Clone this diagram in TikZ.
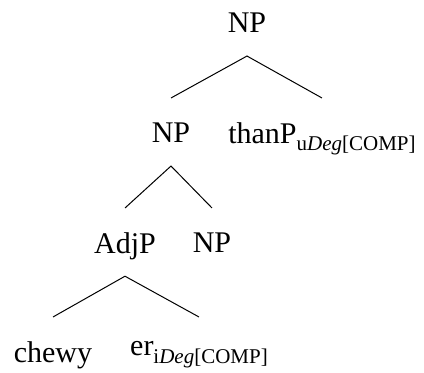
\documentclass[tikz,border=0pt]{standalone}
\usepackage{fontspec}
\setmainfont{Liberation Serif}
\usetikzlibrary{calc}
\newcommand\featsub[1]{\raisebox{-3.75pt}{\fontsize{10.5}{12}\selectfont #1}}
\begin{document}
\begin{tikzpicture}[x=0.5pt,y=-0.5pt]
        \tikzstyle{cat} = [anchor=north, inner sep=0pt, font=\fontsize{15}{18}\selectfont]
        \tikzstyle{branch} = [line width=0.5pt]
                \useasboundingbox (0,0) rectangle (424,373);

                \node (np0) [cat] at (247,12) {NP};
                \node (np1) [cat] at (171,122) {NP};
                \node (thanp) [cat] at (322,122) {thanP\featsub{u\textit{Deg}[COMP]}};
                \node (adjp) [cat] at (125,232) {AdjP};
                \node (np2) [cat] at (212,232) {NP};
                \node (chewy) [cat] at (53,341) {chewy};
                \node (er) [cat] at (199,341) {er\featsub{i\textit{Deg}[COMP]}};

                \draw[branch] ($(np1.north)+(0,-24)$) -- ($(np0.base)+(0,24)$) -- ($(thanp.north)+(0,-24)$);
                \draw[branch] ($(adjp.north)+(0,-24)$) -- ($(np1.base)+(0,24)$) -- ($(np2.north)+(0,-24)$);
                \draw[branch] ($(chewy.north)+(0,-24)$) -- ($(adjp.base)+(0,23)$) -- ($(er.north)+(0,-24)$);
    \end{tikzpicture}
\end{document}
